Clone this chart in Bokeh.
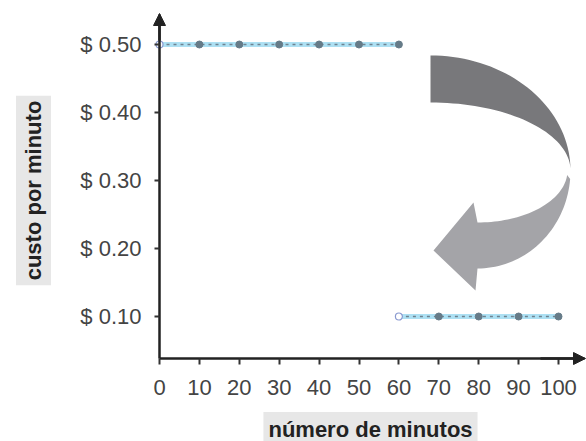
import numpy as np
from bokeh.plotting import figure
from bokeh.models import Arrow, NormalHead, FixedTicker, Range1d, Label
from bokeh.embed import file_html
from bokeh.resources import INLINE

# ---------------- data ----------------
minutes_first = [0, 10, 20, 30, 40, 50, 60]
cost_first = [0.50, 0.50, 0.50, 0.50, 0.50, 0.50, 0.50]
minutes_second = [60, 70, 80, 90, 100]
cost_second = [0.10, 0.10, 0.10, 0.10, 0.10]
x_ticks = [0, 10, 20, 30, 40, 50, 60, 70, 80, 90, 100]
y_ticks = [0.10, 0.20, 0.30, 0.40, 0.50]
y_tick_labels = ["$ 0.10", "$ 0.20", "$ 0.30", "$ 0.40", "$ 0.50"]
x_title = "número de minutos"
y_title = "custo por minuto"

# ---------------- layout helpers ----------------
PX_PER_X = 3.99      # pixels per minute
PX_PER_Y = 680.0     # pixels per dollar
X0_PAGE = 159.0      # page x of minute 0
Y_REF_PAGE = 316.0   # page y of $0.10
W, H = 586, 441


def dx(px):
    return (np.asarray(px, dtype=float) - X0_PAGE) / PX_PER_X


def dy(py):
    return 0.10 + (Y_REF_PAGE - np.asarray(py, dtype=float)) / PX_PER_Y


x_axis_at = float(dy(358))   # value where the horizontal axis crosses

p = figure(width=W, height=H,
           x_range=Range1d(float(dx(0)), float(dx(W))),
           y_range=Range1d(float(dy(H)), float(dy(0))),
           output_backend="svg", toolbar_location=None,
           min_border=0)
p.grid.visible = False
p.outline_line_color = None
p.background_fill_color = "white"
p.border_fill_color = "white"

AX_COL = "#222222"
LBL_COL = "#444444"
TITLE_BG = "#e7e7e7"
FONT = "Liberation Sans"

# x axis
xa = p.xaxis[0]
xa.fixed_location = x_axis_at
xa.ticker = FixedTicker(ticks=x_ticks)
xa.bounds = (0, float(dx(584)))
xa.axis_line_color = AX_COL
xa.axis_line_width = 2.5
xa.major_tick_in = 0
xa.major_tick_out = 6
xa.major_tick_line_width = 2
xa.major_tick_line_color = "#333333"
xa.minor_tick_line_color = None
xa.major_label_standoff = 15
xa.major_label_text_font = FONT
xa.major_label_text_font_size = "22px"
xa.major_label_text_color = LBL_COL

# y axis
ya = p.yaxis[0]
ya.fixed_location = 0
ya.ticker = FixedTicker(ticks=y_ticks)
ya.major_label_overrides = {t: s for t, s in zip(y_ticks, y_tick_labels)}
ya.bounds = (x_axis_at, float(dy(14)))
ya.axis_line_color = AX_COL
ya.axis_line_width = 2.5
ya.major_tick_in = 0
ya.major_tick_out = 5
ya.major_tick_line_width = 2
ya.major_tick_line_color = "#333333"
ya.minor_tick_line_color = None
ya.major_label_standoff = 13
ya.major_label_text_font = FONT
ya.major_label_text_font_size = "22px"
ya.major_label_text_color = LBL_COL

# axis arrow heads
p.add_layout(Arrow(end=NormalHead(size=12, fill_color=AX_COL, line_color=AX_COL),
                   x_start=0, y_start=float(dy(40)), x_end=0, y_end=float(dy(13)),
                   line_color=AX_COL, line_width=2.5))
p.add_layout(Arrow(end=NormalHead(size=12, fill_color=AX_COL, line_color=AX_COL),
                   x_start=float(dx(540)), y_start=x_axis_at, x_end=float(dx(585)), y_end=x_axis_at,
                   line_color=AX_COL, line_width=2.5))

# axis titles (grey boxes)
p.add_layout(Label(x=float(dx(370)), y=float(dy(429)), text=x_title,
                   text_align="center", text_baseline="middle",
                   text_font=FONT, text_font_style="bold",
                   text_font_size="22px", text_color="#222222",
                   background_fill_color=TITLE_BG, padding=5))
p.add_layout(Label(x=float(dx(33)), y=float(dy(190)), text=y_title, angle=np.pi / 2,
                   text_align="center", text_baseline="middle",
                   text_font=FONT, text_font_style="bold",
                   text_font_size="22px", text_color="#222222",
                   background_fill_color=TITLE_BG, padding=5))

# ---------------- decorative curved arrow ----------------
t1 = np.radians(np.linspace(90, 0, 40))
outer_u_x = 430 + 140 * np.cos(t1)
outer_u_y = 170 - 115 * np.sin(t1)
t2 = np.radians(np.linspace(0, 90, 40))
inner_u_x = 430 + 140 * np.cos(t2)
inner_u_y = 170 - 68 * np.sin(t2)
up_x = np.concatenate([outer_u_x, inner_u_x])
up_y = np.concatenate([outer_u_y, inner_u_y])

t3 = np.radians(np.linspace(-5, -90, 40))
outer_l_x = 477 + 93 * np.cos(t3)
outer_l_y = 170 - 98 * np.sin(t3)
t4 = np.radians(np.linspace(-90, -5, 40))
inner_l_x = 477 + 90 * np.cos(t4)
inner_l_y = 170 - 52 * np.sin(t4)
head_x = np.array([475, 433, 473])
head_y = np.array([290, 250, 202])
lo_x = np.concatenate([outer_l_x, head_x, inner_l_x])
lo_y = np.concatenate([outer_l_y, head_y, inner_l_y])

p.patch(dx(up_x), dy(up_y), fill_color="#78787b", line_color=None)
p.patch(dx(lo_x), dy(lo_y), fill_color="#a4a4a8", line_color=None)

# ---------------- data lines ----------------
for xs, ys in ((minutes_first, cost_first), (minutes_second, cost_second)):
    p.line(xs, ys, line_color="#ade0f3", line_width=5)
    p.line(xs, ys, line_color="#6f8290", line_width=1.5, line_dash="3 4")
    p.scatter(xs[1:], ys[1:], size=7, fill_color="#667b88", line_color="#667b88")
    p.scatter(xs[:1], ys[:1], size=7, fill_color="white", line_color="#8a9ad0", line_width=1.2)

open("out.html", "w").write(file_html(p, INLINE))
